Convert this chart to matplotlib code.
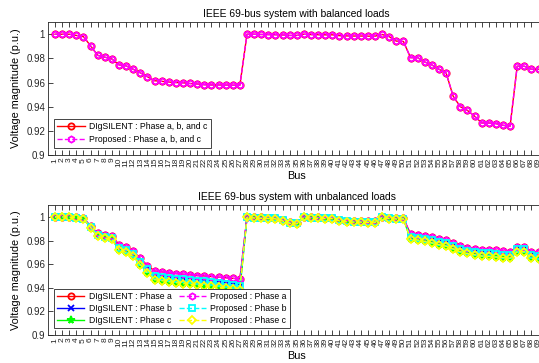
import numpy as np
import matplotlib
matplotlib.use('Agg')
import matplotlib.pyplot as plt

plt.rcParams['font.family'] = ['Liberation Sans', 'DejaVu Sans']

bus = np.arange(1, 70)

# balanced case (same values for phase a, b and c)
v_bal = [1.0, 1.0, 1.0, 0.999, 0.998, 0.9904, 0.9825, 0.981, 0.9795, 0.9746,
         0.9738, 0.971, 0.968, 0.9648, 0.9615, 0.961, 0.9604, 0.96, 0.9598, 0.9592,
         0.9588, 0.9582, 0.958, 0.958, 0.9579, 0.9578, 0.9578, 1.0, 1.0, 0.9998,
         0.9997, 0.9996, 0.9994, 0.999, 0.999, 1.0, 0.9997, 0.9996, 0.9995, 0.9995,
         0.9988, 0.9986, 0.9985, 0.9985, 0.9984, 0.9984, 0.9998, 0.998, 0.9943, 0.994,
         0.9806, 0.9806, 0.977, 0.9746, 0.971, 0.968, 0.9486, 0.940, 0.9369, 0.9322,
         0.9265, 0.9265, 0.926, 0.9246, 0.9238, 0.9735, 0.9735, 0.971, 0.971]

# unbalanced case
v_a = [1.0, 1.0, 1.0, 0.9995, 0.9988, 0.9925, 0.986, 0.985, 0.984, 0.9765,
       0.9745, 0.9708, 0.9648, 0.9588, 0.9542, 0.9535, 0.9525, 0.952, 0.9515, 0.951,
       0.9503, 0.95, 0.9495, 0.949, 0.9485, 0.948, 0.9475, 1.0, 0.9995, 0.9995,
       0.999, 0.999, 0.9975, 0.9958, 0.9952, 1.0, 0.9995, 0.9995, 0.9993, 0.9993,
       0.9975, 0.9968, 0.9965, 0.9965, 0.9962, 0.9962, 1.0, 0.9992, 0.999, 0.999,
       0.9855, 0.985, 0.984, 0.983, 0.9815, 0.9805, 0.978, 0.9755, 0.974, 0.9732,
       0.9722, 0.972, 0.9718, 0.971, 0.9705, 0.9748, 0.9748, 0.9705, 0.970]
v_b = [1.0, 1.0, 0.9999, 0.9993, 0.9985, 0.9918, 0.9845, 0.9833, 0.9823, 0.974,
       0.972, 0.9685, 0.962, 0.9555, 0.9502, 0.9495, 0.9485, 0.9478, 0.9472, 0.9467,
       0.946, 0.9455, 0.945, 0.944, 0.9433, 0.9425, 0.9418, 0.9998, 0.9993, 0.9992,
       0.9988, 0.9987, 0.997, 0.9951, 0.9946, 0.9998, 0.9993, 0.9992, 0.999, 0.999,
       0.997, 0.9963, 0.996, 0.996, 0.9957, 0.9957, 0.9998, 0.9989, 0.9986, 0.9986,
       0.983, 0.9825, 0.9815, 0.9803, 0.9788, 0.9777, 0.9752, 0.9728, 0.9713, 0.9705,
       0.9693, 0.969, 0.9687, 0.968, 0.9675, 0.9725, 0.9725, 0.9675, 0.967]
v_c = [1.0, 1.0, 0.9998, 0.9992, 0.9982, 0.991, 0.9835, 0.982, 0.981, 0.972,
       0.970, 0.9665, 0.9595, 0.9527, 0.9468, 0.946, 0.945, 0.9443, 0.9435, 0.943,
       0.9422, 0.9418, 0.9412, 0.9405, 0.9398, 0.939, 0.9385, 0.9995, 0.999, 0.9988,
       0.9985, 0.9983, 0.9965, 0.9945, 0.994, 0.9995, 0.999, 0.9988, 0.9985, 0.9985,
       0.9965, 0.9958, 0.9955, 0.9955, 0.9952, 0.9952, 0.9995, 0.9985, 0.9982, 0.9982,
       0.981, 0.9805, 0.9793, 0.978, 0.9765, 0.9752, 0.9728, 0.9705, 0.969, 0.968,
       0.9668, 0.9665, 0.966, 0.9655, 0.965, 0.9705, 0.9705, 0.9648, 0.9645]

yticks = [0.9, 0.92, 0.94, 0.96, 0.98, 1.0]
ytick_labels = ['0.9', '0.92', '0.94', '0.96', '0.98', '1']


def StyleAxes(ax, title):
    ax.set_xlim(0, 70)
    ax.set_ylim(0.9, 1.01)
    ax.set_xticks(bus)
    ax.set_xticklabels([str(b) for b in bus], rotation=90, fontsize=6)
    ax.set_yticks(yticks)
    ax.set_yticklabels(ytick_labels, fontsize=7)
    ax.tick_params(direction='in', top=True, right=True, length=3.5, width=0.6,
                   pad=2, colors='#262626')
    for s in ax.spines.values():
        s.set_linewidth(0.6)
        s.set_color('#262626')
    ax.set_title(title, fontsize=7.4, pad=4)
    ax.set_xlabel('Bus', fontsize=7.8, labelpad=3)
    ax.set_ylabel('Voltage magnitude (p.u.)', fontsize=7.8, labelpad=4)


fig = plt.figure(figsize=(5.39, 3.63), dpi=100)
ax1 = fig.add_axes([0.0889, 0.573, 0.9234, 0.366])
ax2 = fig.add_axes([0.0889, 0.0771, 0.9234, 0.358])

ms = 4.5
mw = 1.3
lw = 1.0

ax1.plot(bus, v_bal, '-', color='#ff0000', marker='o', ms=ms, mew=mw, mfc='none',
         lw=lw, label='DIgSILENT : Phase a, b, and c')
ax1.plot(bus, v_bal, '--', color='#ff00ff', marker='h', ms=ms, mew=mw, mfc='none',
         lw=lw, label='Proposed : Phase a, b, and c')
StyleAxes(ax1, 'IEEE 69-bus system with balanced loads')
leg1 = ax1.legend(loc='lower left', bbox_to_anchor=(0.012, 0.055), borderaxespad=0,
                  fontsize=6.2, fancybox=False, edgecolor='#262626', framealpha=1,
                  handlelength=3.2, borderpad=0.4, labelspacing=0.45, handletextpad=0.5)
leg1.get_frame().set_linewidth(0.6)

ax2.plot(bus, v_a, '-', color='#ff0000', marker='o', ms=ms, mew=mw, mfc='none',
         lw=lw, label='DIgSILENT : Phase a')
ax2.plot(bus, v_b, '-', color='#0000ff', marker='x', ms=ms, mew=mw, mfc='none',
         lw=lw, label='DIgSILENT : Phase b')
ax2.plot(bus, v_c, '-', color='#00ff00', marker='*', ms=ms + 1, mew=mw,
         lw=lw, label='DIgSILENT : Phase c')
ax2.plot(bus, v_a, '--', color='#ff00ff', marker='h', ms=ms, mew=mw, mfc='none',
         lw=lw, label='Proposed : Phase a')
ax2.plot(bus, v_b, '--', color='#00ffff', marker='s', ms=ms - 0.5, mew=mw, mfc='none',
         lw=lw, label='Proposed : Phase b')
ax2.plot(bus, v_c, '--', color='#ffff00', marker='D', ms=ms - 0.5, mew=mw, mfc='none',
         lw=lw, label='Proposed : Phase c')
StyleAxes(ax2, 'IEEE 69-bus system with unbalanced loads')
leg2 = ax2.legend(loc='lower left', bbox_to_anchor=(0.012, 0.055), borderaxespad=0,
                  ncol=2, fontsize=6.2, fancybox=False, edgecolor='#262626', framealpha=1,
                  handlelength=3.2, borderpad=0.35, labelspacing=0.35, handletextpad=0.5,
                  columnspacing=0.8)
leg2.get_frame().set_linewidth(0.6)

fig.savefig('out.png', dpi=100)
